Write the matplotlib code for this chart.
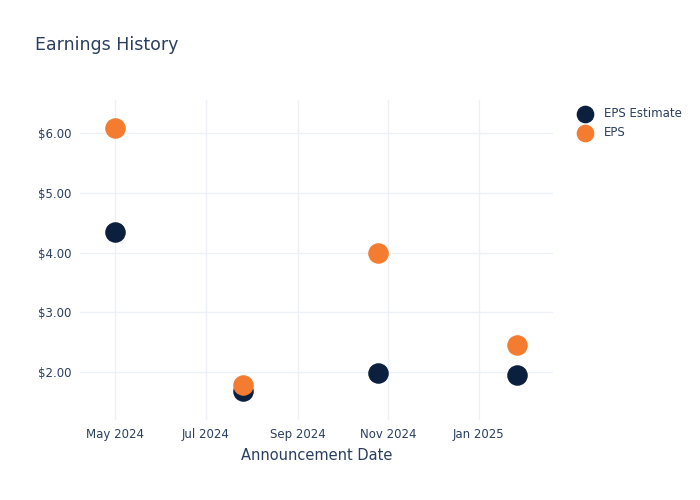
import matplotlib
matplotlib.use("Agg")
import matplotlib.pyplot as plt
import matplotlib.dates as mdates
import numpy as np

# Dados
datas = np.array(["2024-05-01", "2024-07-26", "2024-10-25", "2025-01-27"], dtype="datetime64[D]")
eps_estimado = [4.34, 1.68, 1.99, 1.96]
eps_real = [6.09, 1.79, 3.99, 2.45]

cor_texto = "#2a3f5f"

fig = plt.figure(figsize=(7, 5), dpi=100)
ax = fig.add_axes([0.114, 0.16, 0.676, 0.64])

ax.scatter(datas, eps_estimado, s=190, color="#0b1f3f", label="EPS Estimate", zorder=3)
ax.scatter(datas, eps_real, s=190, color="#f47c30", label="EPS", zorder=3)

ax.set_xlim(np.datetime64("2024-04-07"), np.datetime64("2025-02-20"))
ax.set_ylim(1.2, 6.55)

ax.xaxis.set_major_locator(mdates.MonthLocator(bymonth=[1, 3, 5, 7, 9, 11]))
ax.xaxis.set_major_formatter(mdates.DateFormatter("%b %Y"))
ax.set_yticks([2, 3, 4, 5, 6])
ax.yaxis.set_major_formatter(plt.FuncFormatter(lambda v, p: f"${v:.2f}"))

ax.grid(True, color="#eef0f7", linewidth=1)
ax.set_axisbelow(True)
for s in ax.spines.values():
    s.set_visible(False)
ax.tick_params(length=0, labelsize=8.5, colors=cor_texto, pad=6)

ax.set_xlabel("Announcement Date", fontsize=10.5, color=cor_texto, labelpad=5)
fig.text(0.05, 0.9, "Earnings History", fontsize=12.5, color=cor_texto)

leg = ax.legend(loc="upper left", bbox_to_anchor=(1.02, 1.01), frameon=False,
                fontsize=8.5, handletextpad=0.6, labelspacing=0.5, markerscale=0.85)
for t in leg.get_texts():
    t.set_color(cor_texto)

fig.savefig("out.png", dpi=100)
